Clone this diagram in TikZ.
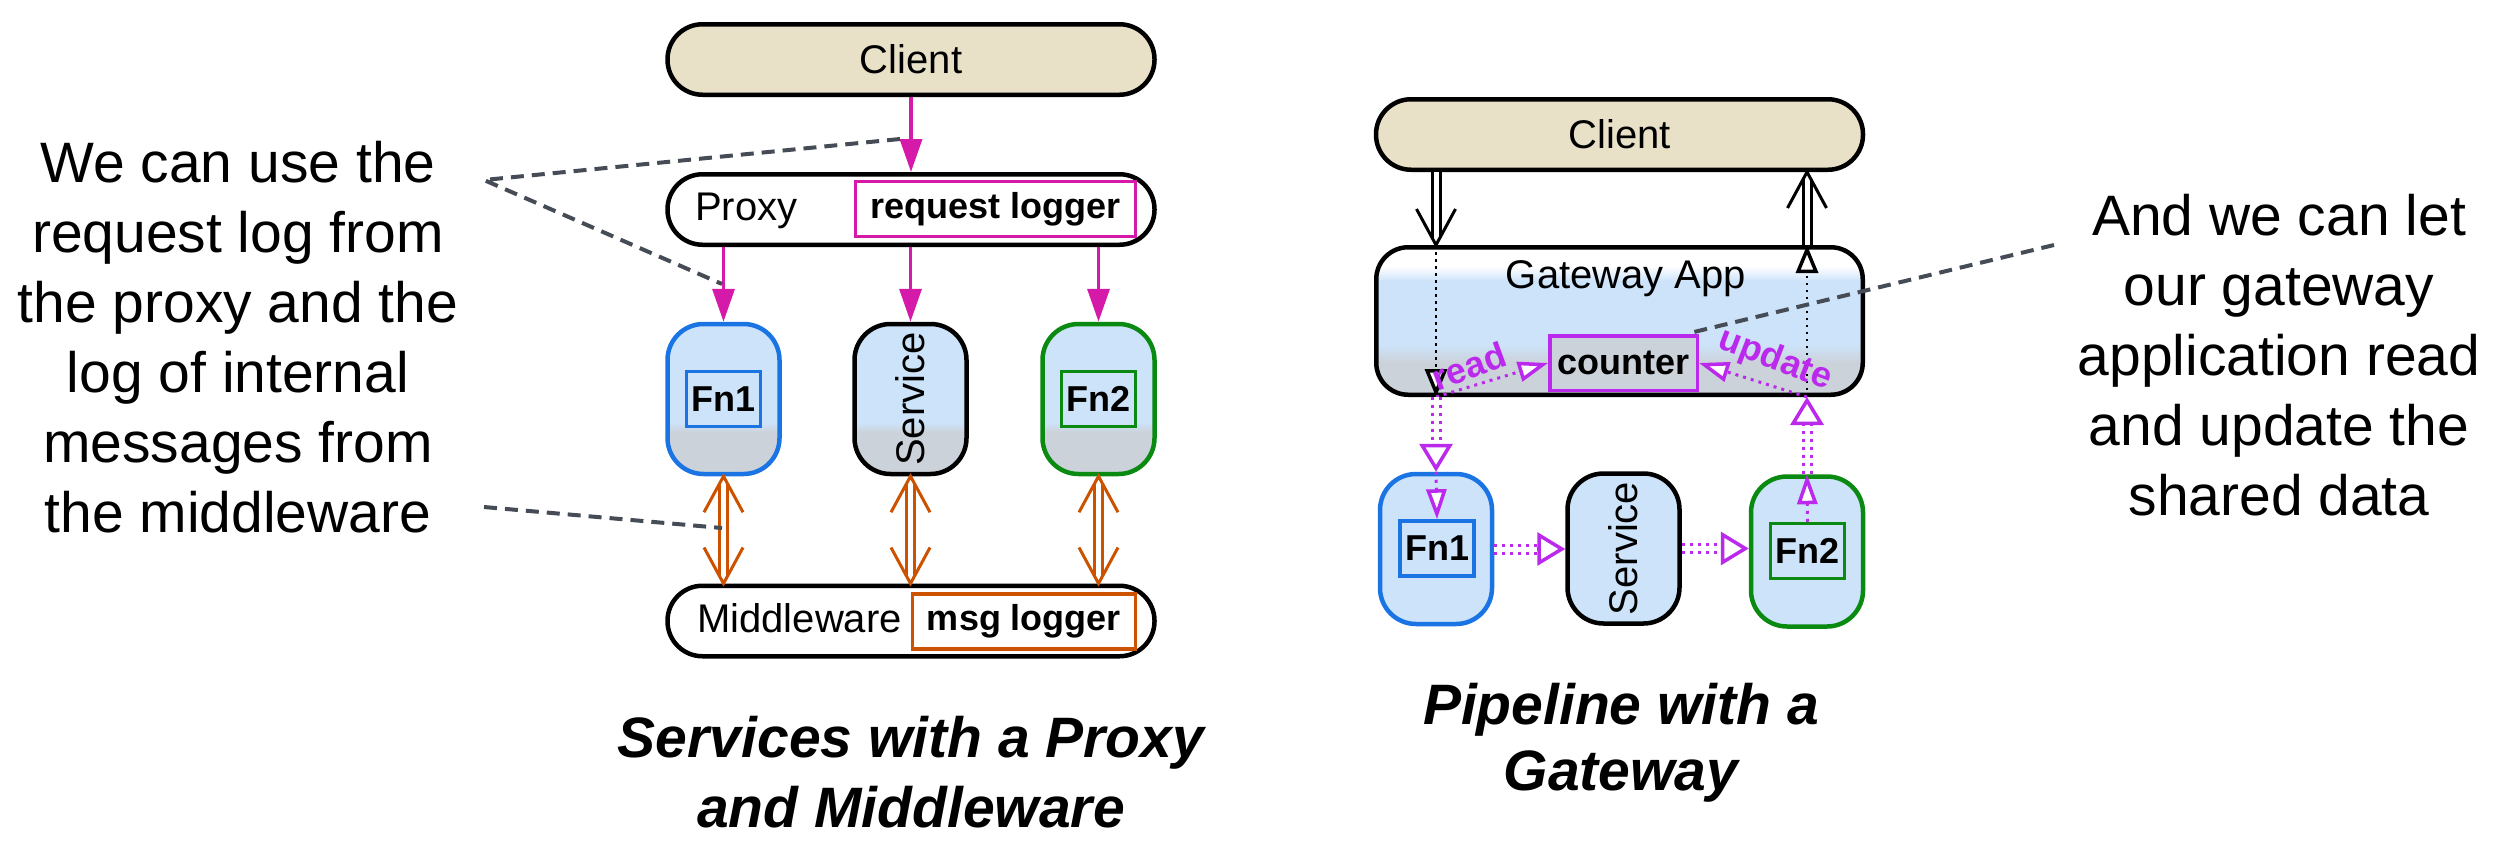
\documentclass[tikz,border=0pt]{standalone}
\usepackage{fontspec}
\setmainfont{Liberation Sans}
\usetikzlibrary{arrows.meta,calc}
\definecolor{beige}{RGB}{232,225,199}
\definecolor{lblue}{RGB}{204,227,250}
\definecolor{lgray}{RGB}{204,210,218}
\definecolor{fnblue}{RGB}{27,116,228}
\definecolor{fngreen}{RGB}{11,138,18}
\definecolor{mag}{RGB}{213,25,168}
\definecolor{viol}{RGB}{187,41,237}
\definecolor{orng}{RGB}{204,82,0}
\definecolor{dashc}{RGB}{70,76,86}
\pgfdeclareverticalshading{fnshade}{100bp}{color(0bp)=(lgray); color(39bp)=(lgray); color(42bp)=(lblue); color(100bp)=(lblue)}
\pgfdeclareverticalshading{gwshade}{100bp}{color(0bp)=(lgray); color(36bp)=(lgray); color(42bp)=(lblue); color(63.5bp)=(lblue); color(68.5bp)=(white); color(100bp)=(white)}
\newcommand\regf{\fontsize{40}{48}\selectfont}
\newcommand\boldf{\bfseries\fontsize{36}{42}\selectfont}
\newcommand\bigf{\fontsize{57}{70}\selectfont}
% open V head: #1 style, #2 tip point, #3 direction sign (1 = pointing up, -1 = pointing down)
\newcommand\vup[2]{\draw[#1] ($(#2)+(-19.5,36)$) -- (#2) -- ($(#2)+(19.5,36)$);}
\newcommand\vdown[2]{\draw[#1] ($(#2)+(-19.5,-36)$) -- (#2) -- ($(#2)+(19.5,-36)$);}
\begin{document}
\begin{tikzpicture}[x=1pt,y=-1pt,
  every node/.style={font=\regf, inner sep=0pt},
  rbox/.style={draw, line width=4.5pt, rounded corners=35pt, minimum width=487pt, minimum height=70.5pt},
  fnbox/.style={draw, line width=4.5pt, rounded corners=36pt, minimum width=112pt, minimum height=150pt},
  inbox/.style={draw, line width=3.5pt, minimum width=74pt, minimum height=55pt, font=\boldf},
  logbox/.style={draw, line width=3.5pt, minimum height=55pt, font=\boldf},
  magarrow/.style={draw=mag, line width=3.5pt, -{Triangle[length=33pt,width=22pt]}},
  oline/.style={draw=orng, line width=3pt, double distance=5pt, shorten <=7pt, shorten >=7pt},
  ohead/.style={draw=orng, line width=3pt, line join=miter},
  bline/.style={draw=black, line width=3pt, double distance=5pt, shorten >=7pt},
  bhead/.style={draw=black, line width=3pt, line join=miter},
  bdot/.style={draw=black, line width=2.5pt, dash pattern=on 2.5pt off 4.5pt, -{Triangle[open,fill=white,length=28pt,width=22pt,line width=3.5pt]}},
  pdd/.style={draw=viol, line width=3pt, double distance=5pt, double=white, dash pattern=on 3pt off 5pt},
  ptip/.style={draw=viol, line width=3.5pt, -{Triangle[open,fill=white,length=28pt,width=33pt]}},
  psmall/.style={draw=viol, line width=3pt, dash pattern=on 3pt off 5pt, -{Triangle[open,fill=white,length=30pt,width=20pt,line width=3.5pt]}},
  dsh/.style={draw=dashc, line width=4pt, dash pattern=on 13pt off 8pt},
  note/.style={align=center, font=\bigf},
  caption/.style={align=center, font=\bfseries\itshape\bigf}
]
\useasboundingbox (0,0) rectangle (2499,846);

% ---------------- left diagram
\node[rbox, fill=beige] (c1) at (911,59.5) {Client};
\node[rbox, fill=white] (px) at (911,209.5) {};
\node[anchor=base west] (pxt) at (695,220) {Proxy};
\node[logbox, draw=mag, minimum width=280pt] (rl) at (995.5,209) {request logger};

\node[fnbox, draw=fnblue, shade, shading=fnshade] (f1) at (723.5,399) {};
\node[inbox, draw=fnblue] (f1i) at (f1.center) {Fn1};
\node[fnbox, draw=black, shade, shading=fnshade] (sv) at (910.5,399) {};
\node[rotate=90] (svt) at (sv.center) {Service};
\node[fnbox, draw=fngreen, shade, shading=fnshade] (f2) at (1098.5,399) {};
\node[inbox, draw=fngreen] (f2i) at (f2.center) {Fn2};

\node[rbox, fill=white] (mw) at (911,621) {};
\node[anchor=base west] (mwt) at (697,632) {Middleware};
\node[logbox, draw=orng, minimum width=223pt] (ml) at (1024,621.5) {msg logger};

\draw[magarrow] (c1.south) -- (px.north);
\draw[magarrow] (f1.north |- px.south) -- (f1.north);
\draw[magarrow] (sv.north |- px.south) -- (sv.north);
\draw[magarrow] (f2.north |- px.south) -- (f2.north);

\foreach \n in {f1,sv,f2}{
  \draw[oline] (\n.south) -- (\n.south |- mw.north);
  \coordinate (\n top) at (\n.south);
  \coordinate (\n bot) at (\n.south |- mw.north);
  \vup{ohead}{\n top}
  \vdown{ohead}{\n bot}
}

\node[note] (n1) at (238,337) {We can use the\\request log from\\the proxy and the\\log of internal\\messages from\\the middleware};
\coordinate (lt) at (484,180);
\coordinate (lb) at (484,507);
\coordinate (d1) at (900,139);
\coordinate (d2) at (722,284);
\coordinate (d3) at (722,528);
\draw[dsh] (d1) -- (lt) -- (d2);
\draw[dsh] (lb) -- (d3);

\node[caption] (cap1) at (911,772) {Services with a Proxy\\and Middleware};

% ---------------- right diagram
\node[rbox, fill=beige] (c2) at (1619.5,134.5) {Client};
\node[draw, line width=4.5pt, rounded corners=32pt, shade, shading=gwshade, minimum width=486.5pt, minimum height=147.5pt] (gw) at (1619.5,321) {};
\node[anchor=base] (gwt) at (1626,288) {Gateway App};

\node[fnbox, draw=fnblue, fill=lblue] (f1r) at (1436,549) {};
\node[inbox, draw=fnblue] (f1ri) at (1437,548.5) {Fn1};
\node[fnbox, draw=black, fill=lblue] (svr) at (1623.5,548.5) {};
\node[rotate=90] (svrt) at (svr.center) {Service};
\node[fnbox, draw=fngreen, fill=lblue] (f2r) at (1807,551.5) {};
\node[inbox, draw=fngreen] (f2ri) at (1807.5,551) {Fn2};

\coordinate (cl) at (c2.south -| f1r);
\coordinate (gl) at (gw.north -| f1r);
\coordinate (cr) at (c2.south -| f2r);
\coordinate (gr) at (gw.north -| f2r);
\draw[bline] (cl) -- (gl);
\vdown{bhead}{gl}
\draw[bline] (gr) -- (cr);
\vup{bhead}{cr}
\draw[bdot] (gl) -- (gw.south -| f1r);
\draw[bdot] (gw.south -| f2r) -- (gr);

\node[draw=viol, line width=3.5pt, fill=lgray, minimum width=147.5pt, minimum height=54.5pt, font=\boldf] (ct) at (1623.5,363) {counter};

\draw[psmall] (gw.south -| f1r) -- (ct.west);
\draw[psmall] (gw.south -| f2r) -- (ct.east);
\node[rotate=20, text=viol, font=\boldf] (rdl) at (1469,366) {read};
\node[rotate=-21, text=viol, font=\boldf] (upl) at (1775,360) {update};

% gateway -> Fn1
\draw[pdd] (gw.south -| f1r) -- ($(f1r.north)+(0,-27)$);
\draw[ptip] ($(f1r.north)+(0,-28)$) -- (f1r.north);
\draw[psmall] (f1r.north) -- (f1ri.north);
% Fn1 -> Service
\draw[pdd] (f1r.east) -- ($(f1r.east -| svr.west)+(-27,0)$);
\draw[ptip] ($(f1r.east -| svr.west)+(-28,0)$) -- (f1r.east -| svr.west);
% Service -> Fn2
\draw[pdd] (svr.east) -- ($(svr.east -| f2r.west)+(-27,0)$);
\draw[ptip] ($(svr.east -| f2r.west)+(-28,0)$) -- (svr.east -| f2r.west);
% Fn2 -> gateway
\draw[psmall] (f2ri.north) -- (f2r.north);
\draw[pdd] (f2r.north) -- ($(gw.south -| f2r)+(0,27)$);
\draw[ptip] ($(gw.south -| f2r)+(0,28)$) -- (gw.south -| f2r);

\node[note] (n2) at (2279,355) {And we can let\\our gateway\\application read\\and update the\\shared data};
\coordinate (rt) at (2054,245);
\coordinate (d4) at (1694,332);
\draw[dsh] (rt) -- (d4);

\node[caption, font=\bfseries\itshape\fontsize{57}{66}\selectfont] (cap2) at (1621,743) {Pipeline with a\\Gateway};
\end{tikzpicture}
\end{document}
